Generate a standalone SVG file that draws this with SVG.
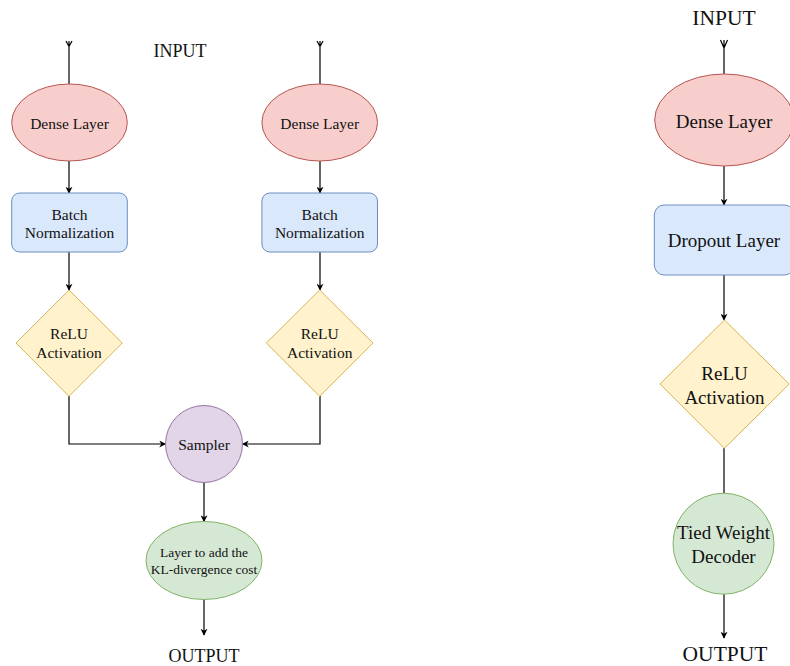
<svg xmlns="http://www.w3.org/2000/svg" width="790" height="666" viewBox="0 0 790 666">
<style>
text{font-family:"Liberation Serif","DejaVu Serif",serif;fill:#111;text-anchor:middle}
.t{font-size:15.5px}
.s{font-size:13.5px}
.b{font-size:19px}
.h{font-size:18px}
.hb{font-size:21.5px}
.red{fill:#f8cecc;stroke:#b85450;stroke-width:1}
.blue{fill:#dae8fc;stroke:#6c8ebf;stroke-width:1}
.yel{fill:#fff2cc;stroke:#d6b656;stroke-width:1}
.pur{fill:#e1d5e7;stroke:#9673a6;stroke-width:1}
.grn{fill:#d5e8d4;stroke:#82b366;stroke-width:1}
.c{fill:none;stroke:#000;stroke-width:1.2}
.a{marker-end:url(#arr)}
</style>
<defs>
<marker id="arr" viewBox="0 0 10 10" refX="9" refY="5" markerWidth="7" markerHeight="7" markerUnits="userSpaceOnUse" orient="auto">
<path d="M0,0 L10,5 L0,10 L3,5 z" fill="#000"/>
</marker>
</defs>
<g id="connectors">
<path class="c" d="M69,84 V41 M66,41 L69,46.5 L72,41"/>
<path class="c" d="M320,84 V41 M317,41 L320,46.5 L323,41"/>
<path class="c" d="M724,74 V40 M720.5,40 L724,48 L727.5,40"/>
<path class="c a" d="M69,161 V193"/>
<path class="c a" d="M320,161 V193"/>
<path class="c a" d="M69,252 V290"/>
<path class="c a" d="M320,252 V290"/>
<path class="c a" d="M69,396 V444 H165.5"/>
<path class="c a" d="M320,396 V444 H242.5"/>
<path class="c a" d="M204,482.5 V521.5"/>
<path class="c a" d="M204,599.5 V635"/>
<path class="c a" d="M724,166 V205"/>
<path class="c a" d="M724,275 V320"/>
<path class="c" d="M724,448 V493.5"/>
<path class="c a" d="M724,594 V638"/>
</g>
<g id="input-left"><text class="h" x="180" y="57">INPUT</text></g>
<g id="dense-left"><ellipse class="red" cx="69.5" cy="122.5" rx="57.8" ry="38.5"/><text class="t" x="69.5" y="129">Dense Layer</text></g>
<g id="dense-mid"><ellipse class="red" cx="319.7" cy="122.5" rx="57.8" ry="38.5"/><text class="t" x="319.7" y="129">Dense Layer</text></g>
<g id="bn-left"><rect class="blue" x="11.7" y="193" width="115.6" height="59" rx="8"/><text class="t" x="69.5" y="220">Batch</text><text class="t" x="69.5" y="238">Normalization</text></g>
<g id="bn-mid"><rect class="blue" x="261.9" y="193" width="115.6" height="59" rx="8"/><text class="t" x="319.7" y="220">Batch</text><text class="t" x="319.7" y="238">Normalization</text></g>
<g id="relu-left"><path class="yel" d="M69,290 L122.3,343 L69,396.3 L16,343 Z"/><text class="t" x="69" y="338.5">ReLU</text><text class="t" x="69" y="358">Activation</text></g>
<g id="relu-mid"><path class="yel" d="M319.7,290 L373,343 L319.7,396.3 L266.3,343 Z"/><text class="t" x="319.7" y="338.5">ReLU</text><text class="t" x="319.7" y="358">Activation</text></g>
<g id="sampler"><circle class="pur" cx="204" cy="444" r="38.5"/><text class="t" x="204" y="449.5">Sampler</text></g>
<g id="kl"><ellipse class="grn" cx="204" cy="560.5" rx="58" ry="39"/><text class="s" x="204" y="556.5">Layer to add the</text><text class="s" x="204" y="574">KL-divergence cost</text></g>
<g id="output-left"><text class="h" x="204" y="662">OUTPUT</text></g>
<g id="input-right"><text class="hb" x="724" y="25">INPUT</text></g>
<g id="dense-right"><ellipse class="red" cx="724.3" cy="120" rx="69.6" ry="46"/><text class="b" x="724" y="128">Dense Layer</text></g>
<g id="dropout"><rect class="blue" x="654.3" y="205" width="140" height="70" rx="10"/><text class="b" x="724" y="247">Dropout Layer</text></g>
<g id="relu-right"><path class="yel" d="M724.5,320 L789.2,384 L724.5,448.3 L660,384 Z"/><text class="b" x="724.5" y="379.5">ReLU</text><text class="b" x="724.5" y="403.5">Activation</text></g>
<g id="tied"><circle class="grn" cx="723.5" cy="543.7" r="50.5"/><text class="b" x="723.5" y="538.5">Tied Weight</text><text class="b" x="723.5" y="563">Decoder</text></g>
<g id="output-right"><text class="hb" x="725" y="661">OUTPUT</text></g>
</svg>
